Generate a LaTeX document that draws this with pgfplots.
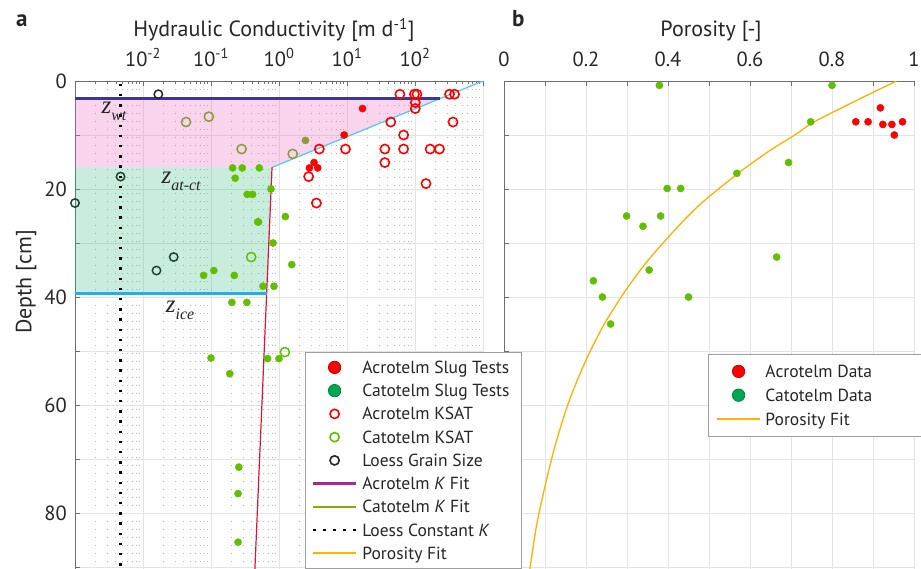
\documentclass[border=0pt]{standalone}
\usepackage{pgfplots}
\pgfplotsset{compat=1.18}
\usepackage{fontspec}
\setmainfont{PT Sans}
\newfontfamily\zfont{Liberation Serif}

\definecolor{txt}{RGB}{38,38,38}
\definecolor{axgray}{RGB}{110,110,110}
\definecolor{gridc}{RGB}{228,228,228}
\definecolor{minorc}{RGB}{185,185,185}
\definecolor{cgreen}{RGB}{98,190,0}
\definecolor{olive}{RGB}{140,155,55}
\definecolor{loessg}{RGB}{25,70,50}
\definecolor{navy}{RGB}{60,55,150}
\definecolor{cyanfit}{RGB}{80,200,240}
\definecolor{crim}{RGB}{220,20,60}
\definecolor{ice}{RGB}{30,175,240}
\definecolor{pinkf}{RGB}{230,100,190}
\definecolor{greenf}{RGB}{60,190,130}
\definecolor{legG}{RGB}{0,166,81}
\definecolor{legM}{RGB}{170,40,150}
\definecolor{legO}{RGB}{130,175,0}
\definecolor{orng}{RGB}{255,176,0}

\newcommand{\zlab}[2]{{\zfont\itshape #1\raisebox{-0.28em}{\fontsize{16}{18}\selectfont #2}}}

\pgfplotsset{
  markimg/.style={legend image code/.code={%
      \path[draw=none, fill=none] (0pt,-6pt) rectangle (43pt,6pt);
      \draw[##1] plot coordinates {(21.5pt,0pt)};}},
  lineimg/.style={legend image code/.code={%
      \draw[##1] plot coordinates {(0pt,0pt) (43pt,0pt)};}},
  common/.style={
    scale only axis, height=488pt,
    y dir=reverse, ymin=0, ymax=90.37,
    axis x line*=top, axis y line*=left,
    axis line style={draw=axgray, line width=0.8pt},
    tick style={draw=axgray, line width=0.8pt},
    tick align=inside,
    major tick length=5pt, minor tick length=3pt,
    ytick={0,10,20,30,40,50,60,70,80,90},
    grid=major,
    major grid style={draw=gridc, line width=0.8pt},
    ticklabel style={font=\fontsize{20.5}{24}\selectfont, text=txt},
    xticklabel style={anchor=base, inner sep=0pt, yshift=15pt},
    yticklabel style={anchor=east, inner sep=0pt, xshift=-8pt},
    clip mode=individual,
    legend cell align=left,
  },
}

\begin{document}
\begin{tikzpicture}

% ---------------- right panel (b) ----------------
\begin{axis}[common,
  at={(504pt,-81pt)}, anchor=north west, width=410pt,
  xmin=0, xmax=1,
  xtick={0,0.1,0.2,0.3,0.4,0.5,0.6,0.7,0.8,0.9,1},
  xticklabels={0,,0.2,,0.4,,0.6,,0.8,,1},
  yticklabels={},
  legend style={at={(0.4968,0.4416)}, anchor=north west,
    draw=gray!75, line width=0.8pt, fill=white,
    inner xsep=8pt, inner ysep=8.5pt, row sep=5.8pt, column sep=4.4pt,
    font=\fontsize{17.5}{20}\selectfont, text=txt,
    nodes={inner sep=0pt, text height=15pt, text depth=3pt}},
]
\addplot[orng, line width=1.3pt, smooth, tension=0.5, forget plot] coordinates {
 (0.957,0) (0.852,3.9) (0.757,7.55) (0.709,10) (0.644,13.1) (0.571,17.1)
 (0.491,22.0) (0.449,25.0) (0.402,28.8) (0.347,33.6) (0.300,38.4)
 (0.269,42.0) (0.243,45.2) (0.208,50.4) (0.181,55.0) (0.154,60.3)
 (0.124,67.7) (0.098,75.7) (0.079,82.5) (0.063,90.4)};
% catotelm porosity data
\addplot[only marks, mark=*, mark size=3.6pt, draw=cgreen, fill=cgreen, forget plot] coordinates {
 (0.379,0.8) (0.800,0.8) (0.748,7.55) (0.694,15.1) (0.568,17.1)
 (0.398,19.9) (0.431,19.9) (0.299,25.0) (0.382,25.0) (0.339,26.9)
 (0.665,32.6) (0.354,35.0) (0.218,37.0) (0.240,40.0) (0.450,40.0) (0.260,45.0)};
% acrotelm porosity data
\addplot[only marks, mark=*, mark size=3.6pt, draw=red, fill=red, forget plot] coordinates {
 (0.918,4.97) (0.858,7.55) (0.888,7.55) (0.924,8.04) (0.946,8.04) (0.972,7.55) (0.952,10.0)};
\addlegendimage{only marks, mark=*, mark size=6.2pt, draw=red!80!black, fill=red, markimg}
\addlegendentry{\makebox[149pt][l]{Acrotelm Data}}
\addlegendimage{only marks, mark=*, mark size=6.2pt, draw=legG!80!black, fill=legG, markimg}
\addlegendentry{\makebox[149pt][l]{Catotelm Data}}
\addlegendimage{no marks, orng, line width=2pt, lineimg}
\addlegendentry{\makebox[149pt][l]{Porosity Fit}}
\end{axis}

% ---------------- left panel (a) ----------------
\begin{axis}[common,
  at={(75pt,-81pt)}, anchor=north west, width=408pt,
  xmode=log, xmin=1e-3, xmax=1e3,
  xtick={1e-3,1e-2,1e-1,1,10,100,1000},
  xticklabels={,10\textsuperscript{-2},10\textsuperscript{-1},10\textsuperscript{0},10\textsuperscript{1},10\textsuperscript{2},},
  minor xtick={2e-3,3e-3,4e-3,5e-3,6e-3,7e-3,8e-3,9e-3,
    0.02,0.03,0.04,0.05,0.06,0.07,0.08,0.09,
    0.2,0.3,0.4,0.5,0.6,0.7,0.8,0.9,
    2,3,4,5,6,7,8,9,
    20,30,40,50,60,70,80,90,
    200,300,400,500,600,700,800,900},
  xminorgrids=true,
  minor grid style={draw=minorc, line width=0.9pt, dash pattern=on 0.9pt off 7.1pt},
  yticklabels={0,,20,,40,,60,,80,},
  legend style={at={(0.564,0.4447)}, anchor=north west,
    draw=gray!75, line width=0.8pt, fill=white,
    inner xsep=6.3pt, inner ysep=6pt, row sep=5.25pt, column sep=5pt,
    font=\fontsize{17.5}{20}\selectfont, text=txt,
    nodes={inner sep=0pt, text height=15pt, text depth=3pt}},
]
% shaded zones
\addplot[draw=none, fill=pinkf, fill opacity=0.28, forget plot] coordinates {
 (0.001,3.25) (236,3.25) (0.79,16) (0.001,16)} -- cycle;
\addplot[draw=none, fill=greenf, fill opacity=0.28, forget plot] coordinates {
 (0.001,16) (0.79,16) (0.66,39.3) (0.001,39.3)} -- cycle;
% loess constant K
\addplot[black, line width=2.5pt, dash pattern=on 2.5pt off 7.7pt, forget plot] coordinates {
 (0.0047,0.5) (0.0047,90.4)};
% fits and boundaries
\addplot[cyanfit, line width=1.2pt, forget plot] coordinates {(0.79,16) (1000,0)};
\addplot[crim, line width=1.2pt, forget plot] coordinates {(0.79,16) (0.442,90.4)};
\addplot[navy, line width=2.6pt, forget plot] coordinates {(0.001,3.25) (236,3.25)};
\addplot[ice, line width=2.6pt, forget plot] coordinates {(0.001,39.3) (0.66,39.3)};
% loess grain size
\addplot[only marks, mark=o, mark size=4.2pt, mark options={line width=1.5pt}, draw=black!85, forget plot] coordinates {
 (0.0168,2.45)};
\addplot[only marks, mark=o, mark size=4.2pt, mark options={line width=1.5pt}, draw=loessg, forget plot] coordinates {
 (0.00468,17.7) (0.001,22.6) (0.0283,32.6) (0.0158,35.1)};
% catotelm KSAT
\addplot[only marks, mark=o, mark size=4.6pt, mark options={line width=1.5pt}, draw=olive, forget plot] coordinates {
 (0.043,7.6) (0.093,6.6) (0.282,12.6) (1.59,13.5)};
\addplot[only marks, mark=o, mark size=4.6pt, mark options={line width=1.5pt}, draw=cgreen, forget plot] coordinates {
 (0.39,32.6) (1.22,50.2)};
% acrotelm KSAT
\addplot[only marks, mark=o, mark size=4.6pt, mark options={line width=1.6pt}, draw=red, forget plot] coordinates {
 (60,2.45) (98,2.45) (107,2.45) (322,2.45) (382,2.45) (101,4.0) (101,5.1)
 (44,7.6) (362,7.6) (68,10.0) (3.92,12.6) (9.5,12.6) (36,12.6) (68,12.6)
 (167,12.6) (229,12.6) (36,15.1) (2.73,17.7) (145,19.0) (3.55,22.6)};
% catotelm slug tests
\addplot[only marks, mark=*, mark size=3.6pt, draw=olive, fill=olive, forget plot] coordinates {
 (2.45,11.0)};
\addplot[only marks, mark=*, mark size=3.6pt, draw=cgreen, fill=cgreen, forget plot] coordinates {
 (0.208,16.1) (0.288,16.1) (0.513,16.1) (0.227,18.0) (0.762,20.0)
 (0.341,21.0) (0.409,21.0) (1.24,25.1) (0.486,26.1) (0.50,26.1)
 (0.817,30.0) (1.54,34.0) (0.110,35.1) (0.078,36.0) (0.220,36.0)
 (0.581,38.0) (0.843,38.0) (0.203,41.0) (0.337,41.0) (0.100,51.3)
 (0.68,51.4) (1.0,51.4) (0.189,54.2) (0.257,71.5) (0.25,76.4) (0.25,85.4)};
% acrotelm slug tests
\addplot[only marks, mark=*, mark size=3.6pt, draw=red, fill=red, forget plot] coordinates {
 (16.9,5.1) (9.1,10.0) (3.28,15.1) (2.80,16.1) (3.71,16.1)};
% zone labels
\node[anchor=base west, inner sep=0pt, font=\fontsize{25}{27}\selectfont, text=txt] at (axis cs:0.00244,5.93) {\zlab{z}{wt}};
\node[anchor=base west, inner sep=0pt, font=\fontsize{25}{27}\selectfont, text=txt] at (axis cs:0.01866,18.94) {\zlab{z}{at-ct}};
\node[anchor=base west, inner sep=0pt, font=\fontsize{25}{27}\selectfont, text=txt] at (axis cs:0.0216,42.8) {\zlab{z}{ice}};
% legend
\addlegendimage{only marks, mark=*, mark size=6.2pt, draw=red!80!black, fill=red, markimg}
\addlegendentry{\makebox[153pt][l]{Acrotelm Slug Tests}}
\addlegendimage{only marks, mark=*, mark size=6.2pt, draw=legG!80!black, fill=legG, markimg}
\addlegendentry{\makebox[153pt][l]{Catotelm Slug Tests}}
\addlegendimage{only marks, mark=o, mark size=4.6pt, mark options={line width=1.6pt}, draw=red, markimg}
\addlegendentry{\makebox[153pt][l]{Acrotelm KSAT}}
\addlegendimage{only marks, mark=o, mark size=4.6pt, mark options={line width=1.6pt}, draw=cgreen, markimg}
\addlegendentry{\makebox[153pt][l]{Catotelm KSAT}}
\addlegendimage{only marks, mark=o, mark size=4.6pt, mark options={line width=1.6pt}, draw=black!85, markimg}
\addlegendentry{\makebox[153pt][l]{Loess Grain Size}}
\addlegendimage{no marks, legM, line width=2.6pt, lineimg}
\addlegendentry{\makebox[153pt][l]{Acrotelm \textit{K} Fit}}
\addlegendimage{no marks, legO, line width=2.6pt, lineimg}
\addlegendentry{\makebox[153pt][l]{Catotelm \textit{K} Fit}}
\addlegendimage{no marks, black, line width=2.5pt, dash pattern=on 2.5pt off 7.5pt, lineimg}
\addlegendentry{\makebox[153pt][l]{Loess Constant \textit{K}}}
\addlegendimage{no marks, orng, line width=2pt, lineimg}
\addlegendentry{\makebox[153pt][l]{Porosity Fit}}
\end{axis}

% titles and panel letters
\node[anchor=base, inner sep=0pt, font=\fontsize{22}{26}\selectfont, text=txt] at (274pt,-37pt) {Hydraulic Conductivity [m d\textsuperscript{-1}]};
\node[anchor=base, inner sep=0pt, font=\fontsize{22}{26}\selectfont, text=txt] at (711pt,-37pt) {Porosity [-]};
\node[anchor=base west, inner sep=0pt, font=\bfseries\fontsize{23}{26}\selectfont, text=txt] at (16pt,-27pt) {a};
\node[anchor=base west, inner sep=0pt, font=\bfseries\fontsize{23}{26}\selectfont, text=txt] at (512pt,-27pt) {b};
\node[rotate=90, inner sep=0pt, font=\fontsize{22}{26}\selectfont, text=txt] at (26pt,-282pt) {Depth [cm]};

\pgfresetboundingbox
\useasboundingbox (0pt,0pt) rectangle (921pt,-569pt);
\end{tikzpicture}
\end{document}
